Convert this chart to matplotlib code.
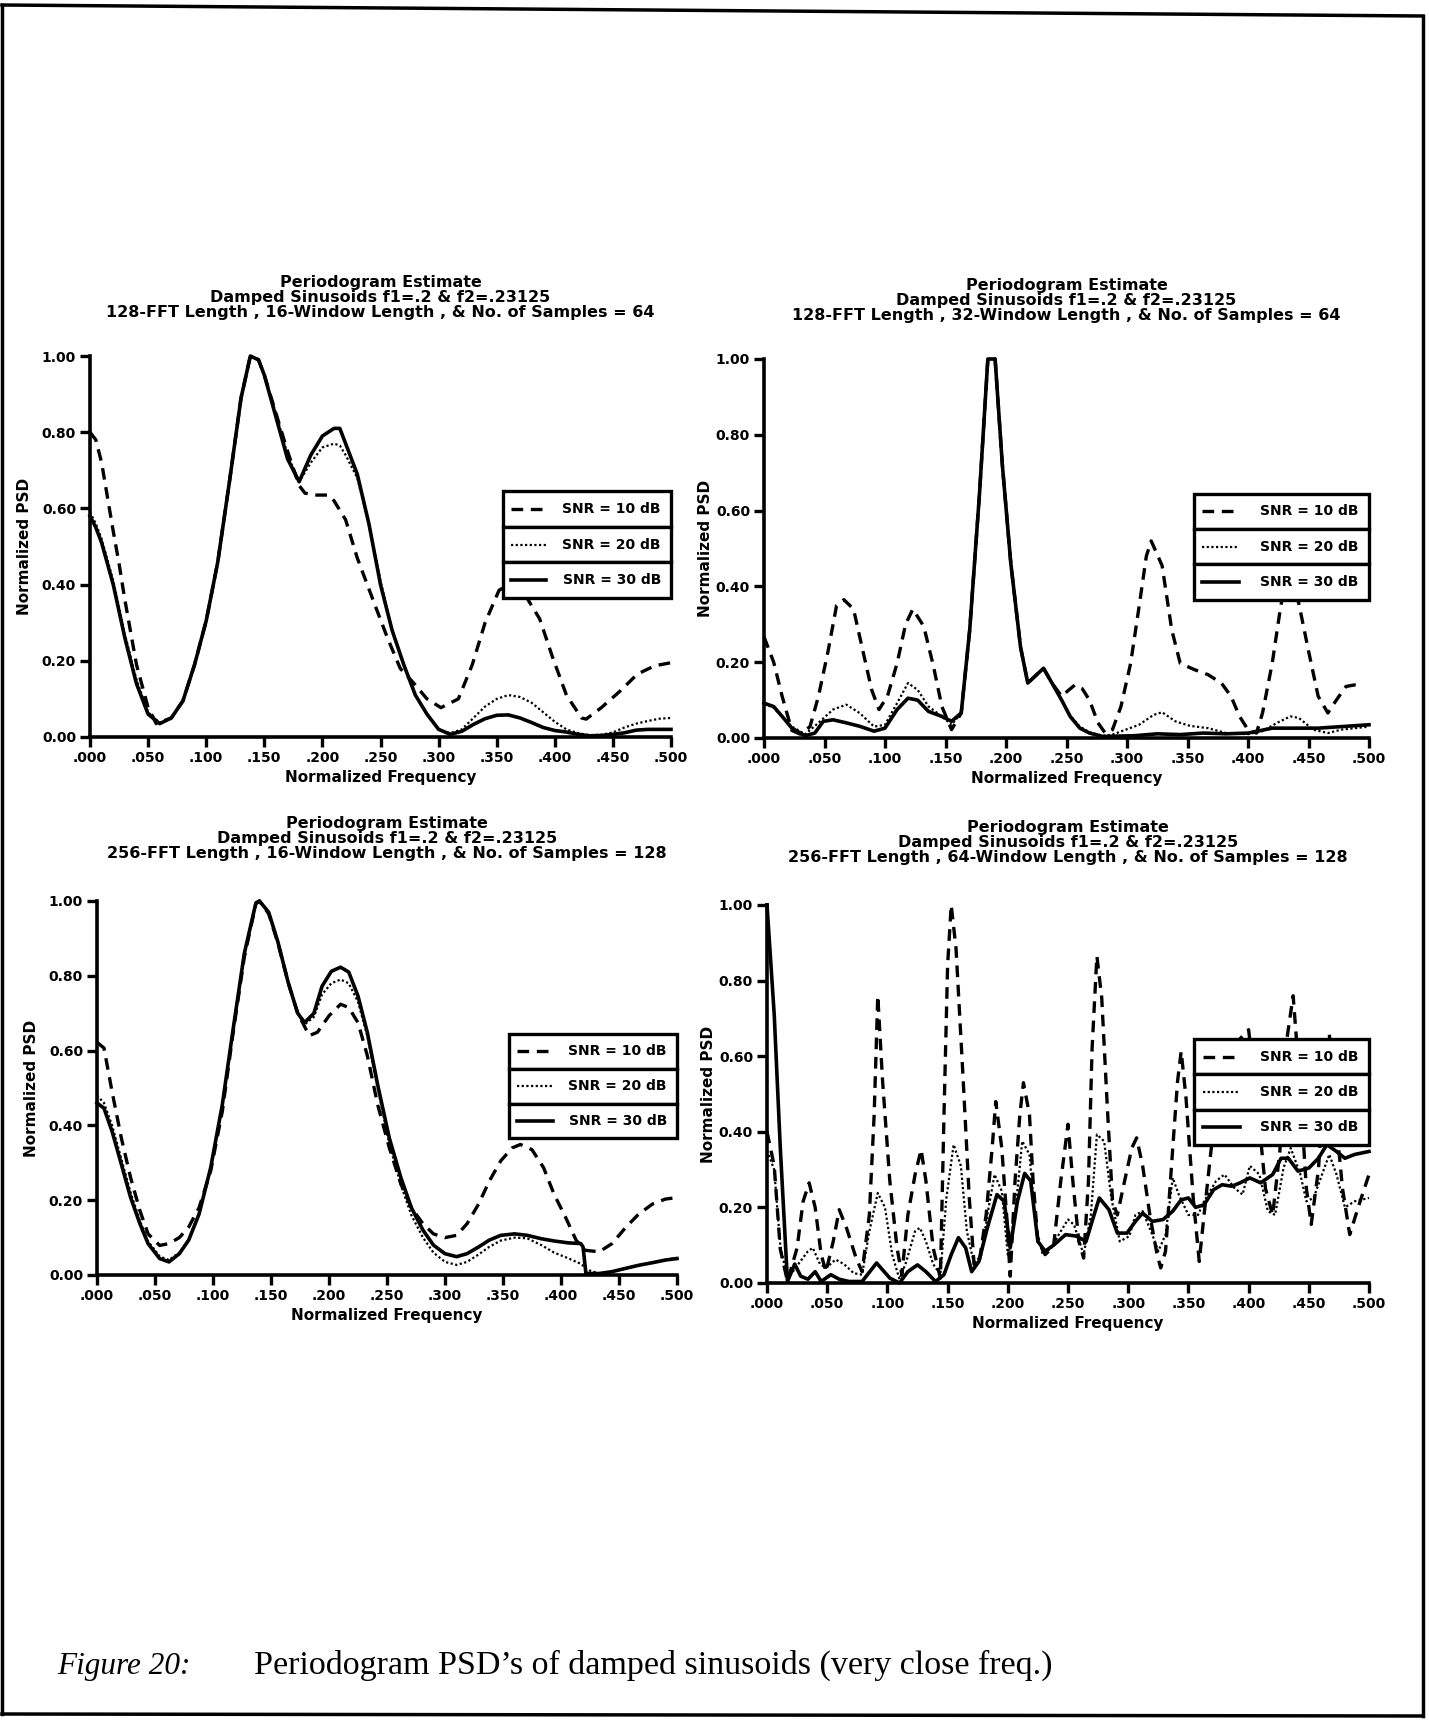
import matplotlib
matplotlib.use("Agg")
import matplotlib.pyplot as plt
from matplotlib.patches import Rectangle
from matplotlib.lines import Line2D

plt.rcParams['font.family'] = ['DejaVu Sans']

# ---- text ----
title_top = "Periodogram Estimate\nDamped Sinusoids f1=.2 & f2=.23125\n"
titles = [title_top + "128-FFT Length , 16-Window Length , & No. of Samples = 64",
          title_top + "128-FFT Length , 32-Window Length , & No. of Samples = 64",
          title_top + "256-FFT Length , 16-Window Length , & No. of Samples = 128",
          title_top + "256-FFT Length , 64-Window Length , & No. of Samples = 128"]
legend_labels = ["SNR = 10 dB", "SNR = 20 dB", "SNR = 30 dB"]
xticks = [0.0, 0.05, 0.1, 0.15, 0.2, 0.25, 0.3, 0.35, 0.4, 0.45, 0.5]
xticklabels = [".000", ".050", ".100", ".150", ".200", ".250", ".300", ".350", ".400", ".450", ".500"]
yticks = [0.0, 0.2, 0.4, 0.6, 0.8, 1.0]
yticklabels = ["0.00", "0.20", "0.40", "0.60", "0.80", "1.00"]

# ---- top left: 128 FFT, 16 window ----
tl_x10 = [0, 0.005, 0.01, 0.02, 0.025, 0.03, 0.04, 0.05, 0.057, 0.07, 0.08, 0.09, 0.1, 0.11, 0.12, 0.13,
          0.138, 0.145, 0.15, 0.16, 0.17, 0.18, 0.185, 0.195, 0.205, 0.21, 0.22, 0.23, 0.246, 0.256, 0.267,
          0.279, 0.29, 0.302, 0.317, 0.329, 0.34, 0.352, 0.36, 0.375, 0.387, 0.398, 0.41, 0.423, 0.427, 0.44,
          0.456, 0.471, 0.486, 0.5]
tl_y10 = [0.80, 0.78, 0.72, 0.54, 0.455, 0.36, 0.19, 0.077, 0.035, 0.05, 0.095, 0.19, 0.305, 0.46, 0.67, 0.89,
          1.0, 0.99, 0.95, 0.85, 0.75, 0.66, 0.64, 0.635, 0.635, 0.62, 0.57, 0.47, 0.34, 0.26, 0.18,
          0.14, 0.10, 0.077, 0.10, 0.19, 0.30, 0.385, 0.40, 0.37, 0.31, 0.21, 0.11, 0.05, 0.047, 0.077,
          0.12, 0.165, 0.187, 0.195]
tl_x = [0, 0.005, 0.01, 0.02, 0.03, 0.04, 0.05, 0.06, 0.07, 0.08, 0.09, 0.1, 0.11, 0.12, 0.13, 0.138, 0.145,
        0.15, 0.16, 0.17, 0.18, 0.19, 0.2, 0.21, 0.215, 0.22, 0.23, 0.24, 0.25, 0.26, 0.27, 0.28, 0.29, 0.3,
        0.31, 0.32, 0.33, 0.34, 0.35, 0.36, 0.37, 0.38, 0.39, 0.4, 0.41, 0.42, 0.43, 0.44, 0.45, 0.46, 0.47,
        0.48, 0.49, 0.5]
tl_y20 = [0.59, 0.56, 0.52, 0.41, 0.27, 0.15, 0.065, 0.037, 0.05, 0.095, 0.19, 0.305, 0.46, 0.67, 0.89, 1.0, 0.99,
          0.95, 0.85, 0.74, 0.67, 0.72, 0.76, 0.77, 0.765, 0.74, 0.68, 0.56, 0.41, 0.28, 0.19, 0.11, 0.06, 0.02,
          0.01, 0.02, 0.05, 0.08, 0.10, 0.11, 0.105, 0.09, 0.065, 0.04, 0.02, 0.01, 0.005, 0.006, 0.012, 0.025,
          0.035, 0.042, 0.048, 0.05]
tl_y30 = [0.58, 0.55, 0.51, 0.40, 0.26, 0.14, 0.06, 0.035, 0.05, 0.095, 0.19, 0.305, 0.46, 0.67, 0.89, 1.0, 0.99,
          0.95, 0.84, 0.73, 0.67, 0.74, 0.79, 0.81, 0.81, 0.77, 0.69, 0.56, 0.40, 0.28, 0.19, 0.11, 0.06, 0.02,
          0.007, 0.015, 0.033, 0.048, 0.057, 0.058, 0.05, 0.038, 0.025, 0.017, 0.013, 0.007, 0.003, 0.004, 0.007,
          0.011, 0.018, 0.02, 0.02, 0.02]

# ---- top right: 128 FFT, 32 window ----
tr_x10 = [0, 0.008, 0.015, 0.023, 0.03, 0.038, 0.045, 0.053, 0.06, 0.066, 0.074, 0.081, 0.089, 0.095, 0.102,
          0.11, 0.117, 0.123, 0.132, 0.14, 0.147, 0.155, 0.163, 0.17, 0.178, 0.185, 0.191, 0.197, 0.204, 0.212,
          0.218, 0.223, 0.231, 0.238, 0.246, 0.252, 0.257, 0.263, 0.269, 0.276, 0.282, 0.288, 0.295, 0.303,
          0.31, 0.316, 0.32, 0.329, 0.337, 0.344, 0.356, 0.367, 0.378, 0.386, 0.393, 0.4, 0.407, 0.412, 0.42,
          0.427, 0.433, 0.442, 0.45, 0.458, 0.466, 0.473, 0.481, 0.488, 0.494]
tr_y10 = [0.267, 0.2, 0.11, 0.02, 0.01, 0.03, 0.11, 0.23, 0.35, 0.365, 0.34, 0.24, 0.127, 0.075, 0.11,
          0.197, 0.30, 0.34, 0.295, 0.19, 0.083, 0.022, 0.066, 0.285, 0.64, 1.0, 1.0, 0.72, 0.46, 0.24,
          0.145, 0.16, 0.184, 0.145, 0.11, 0.127, 0.14, 0.13, 0.10, 0.04, 0.013, 0.022, 0.083, 0.197,
          0.347, 0.48, 0.52, 0.455, 0.285, 0.197, 0.18, 0.167, 0.145, 0.11, 0.057, 0.022, 0.013, 0.066, 0.197,
          0.347, 0.44, 0.355, 0.23, 0.11, 0.066, 0.10, 0.136, 0.14, 0.135]
tr_x20 = [0, 0.008, 0.015, 0.023, 0.034, 0.045, 0.057, 0.068, 0.079, 0.091, 0.1, 0.11, 0.119, 0.127, 0.136,
          0.147, 0.155, 0.163, 0.17, 0.178, 0.185, 0.191, 0.197, 0.204, 0.212, 0.218, 0.223, 0.231, 0.238,
          0.246, 0.253, 0.261, 0.269, 0.28, 0.288, 0.299, 0.31, 0.322, 0.329, 0.34, 0.352, 0.367, 0.382, 0.4,
          0.412, 0.424, 0.435, 0.442, 0.454, 0.466, 0.477, 0.5]
tr_y20 = [0.09, 0.08, 0.055, 0.03, 0.01, 0.04, 0.075, 0.088, 0.066, 0.03, 0.035, 0.092, 0.145, 0.127, 0.083,
          0.057, 0.035, 0.066, 0.285, 0.64, 1.0, 1.0, 0.72, 0.46, 0.24, 0.145, 0.16, 0.184, 0.145,
          0.10, 0.06, 0.03, 0.015, 0.006, 0.009, 0.022, 0.035, 0.061, 0.068, 0.044, 0.032, 0.026, 0.013, 0.01,
          0.018, 0.04, 0.057, 0.053, 0.022, 0.013, 0.022, 0.03]
tr_x30 = [0, 0.008, 0.015, 0.023, 0.034, 0.042, 0.049, 0.057, 0.068, 0.079, 0.091, 0.1, 0.11, 0.119, 0.127,
          0.136, 0.147, 0.155, 0.163, 0.17, 0.178, 0.185, 0.191, 0.197, 0.204, 0.212, 0.218, 0.223, 0.231,
          0.238, 0.246, 0.253, 0.261, 0.269, 0.28, 0.306, 0.325, 0.344, 0.363, 0.382, 0.4, 0.42, 0.44, 0.458,
          0.477, 0.5]
tr_y30 = [0.092, 0.083, 0.057, 0.026, 0.006, 0.013, 0.044, 0.048, 0.04, 0.031, 0.018, 0.026, 0.075, 0.105, 0.10,
          0.07, 0.057, 0.044, 0.066, 0.285, 0.64, 1.0, 1.0, 0.72, 0.46, 0.24, 0.145, 0.16, 0.184,
          0.145, 0.10, 0.057, 0.026, 0.013, 0.004, 0.006, 0.011, 0.009, 0.013, 0.011, 0.013, 0.026, 0.026, 0.026,
          0.03, 0.035]

# ---- bottom left: 256 FFT, 16 window ----
bl_x10 = [0, 0.006, 0.013, 0.021, 0.029, 0.037, 0.044, 0.054, 0.062, 0.071, 0.079, 0.088, 0.098, 0.108, 0.117,
          0.127, 0.137, 0.14, 0.148, 0.156, 0.165, 0.173, 0.183, 0.19, 0.2, 0.21, 0.217, 0.225, 0.233, 0.242,
          0.252, 0.262, 0.271, 0.281, 0.29, 0.3, 0.31, 0.319, 0.329, 0.338, 0.348, 0.358, 0.365, 0.375, 0.385,
          0.394, 0.404, 0.413, 0.421, 0.433, 0.444, 0.456, 0.467, 0.479, 0.49, 0.5]
bl_y10 = [0.622, 0.607, 0.49, 0.366, 0.26, 0.172, 0.11, 0.079, 0.084, 0.10, 0.128, 0.18, 0.278, 0.437, 0.64,
          0.85, 0.993, 1.0, 0.966, 0.887, 0.78, 0.70, 0.64, 0.649, 0.693, 0.724, 0.715, 0.675, 0.587, 0.455,
          0.34, 0.243, 0.18, 0.137, 0.11, 0.10, 0.106, 0.137, 0.19, 0.25, 0.305, 0.34, 0.349, 0.335, 0.287,
          0.216, 0.154, 0.093, 0.066, 0.062, 0.084, 0.128, 0.163, 0.19, 0.203, 0.207]
bl_x = [0, 0.006, 0.013, 0.021, 0.029, 0.037, 0.044, 0.054, 0.062, 0.071, 0.079, 0.088, 0.098, 0.108, 0.117,
        0.127, 0.137, 0.14, 0.148, 0.156, 0.165, 0.173, 0.179, 0.187, 0.194, 0.202, 0.21, 0.217, 0.225, 0.233,
        0.242, 0.252, 0.262, 0.271, 0.281, 0.29, 0.3, 0.31, 0.319, 0.329, 0.338, 0.348, 0.36, 0.371, 0.383,
        0.394, 0.406, 0.417, 0.419, 0.4215, 0.433, 0.444, 0.456, 0.467, 0.479, 0.49, 0.5]
bl_y20 = [0.48, 0.46, 0.40, 0.31, 0.22, 0.145, 0.09, 0.05, 0.04, 0.06, 0.095, 0.165, 0.285, 0.455, 0.65,
          0.86, 0.995, 1.0, 0.97, 0.89, 0.78, 0.70, 0.67, 0.69, 0.75, 0.78, 0.79, 0.78, 0.73, 0.64,
          0.50, 0.35, 0.24, 0.16, 0.10, 0.06, 0.035, 0.027, 0.035, 0.055, 0.075, 0.092, 0.10, 0.098, 0.08,
          0.06, 0.045, 0.03, 0.025, 0.015, 0.004, 0.009, 0.018, 0.026, 0.034, 0.041, 0.046]
bl_y30 = [0.46, 0.446, 0.384, 0.296, 0.207, 0.137, 0.084, 0.044, 0.035, 0.057, 0.093, 0.163, 0.287, 0.455, 0.65,
          0.86, 0.995, 1.0, 0.97, 0.89, 0.78, 0.70, 0.675, 0.70, 0.772, 0.812, 0.823, 0.81, 0.746, 0.649,
          0.508, 0.366, 0.26, 0.18, 0.12, 0.08, 0.057, 0.049, 0.057, 0.075, 0.093, 0.106, 0.11, 0.106, 0.097,
          0.091, 0.086, 0.084, 0.075, 0.004, 0.004, 0.009, 0.018, 0.026, 0.033, 0.04, 0.044]

# ---- bottom right: 256 FFT, 64 window ----
br_x10 = [0, 0.006, 0.011, 0.017, 0.025, 0.03, 0.035, 0.04, 0.045, 0.049, 0.055, 0.06, 0.066, 0.074, 0.079,
          0.085, 0.089, 0.092, 0.096, 0.102, 0.108, 0.112, 0.117, 0.123, 0.128, 0.132, 0.138, 0.144, 0.147,
          0.15, 0.153, 0.157, 0.163, 0.168, 0.172, 0.176, 0.182, 0.187, 0.19, 0.195, 0.199, 0.202, 0.206,
          0.21, 0.213, 0.218, 0.221, 0.225, 0.231, 0.238, 0.244, 0.25, 0.254, 0.259, 0.263, 0.267, 0.27,
          0.274, 0.278, 0.283, 0.287, 0.291, 0.297, 0.303, 0.307, 0.312, 0.318, 0.324, 0.327, 0.331, 0.337,
          0.341, 0.344, 0.348, 0.354, 0.359, 0.363, 0.369, 0.374, 0.385, 0.4, 0.408, 0.414, 0.42, 0.426,
          0.432, 0.437, 0.442, 0.448, 0.452, 0.458, 0.463, 0.467, 0.472, 0.478, 0.484, 0.491, 0.5]
br_y10 = [0.40, 0.31, 0.09, 0.004, 0.093, 0.216, 0.265, 0.20, 0.075, 0.03, 0.11, 0.194, 0.146, 0.066, 0.03,
          0.18, 0.445, 0.76, 0.534, 0.27, 0.093, 0.022, 0.18, 0.287, 0.353, 0.27, 0.093, 0.013, 0.445,
          0.84, 1.0, 0.885, 0.534, 0.225, 0.049, 0.049, 0.18, 0.357, 0.48, 0.357, 0.18, 0.018, 0.27,
          0.445, 0.53, 0.445, 0.27, 0.11, 0.075, 0.097, 0.27, 0.42, 0.27, 0.11, 0.066, 0.27, 0.62,
          0.865, 0.755, 0.445, 0.216, 0.18, 0.27, 0.357, 0.384, 0.31, 0.18, 0.075, 0.04, 0.084, 0.357,
          0.534, 0.613, 0.49, 0.225, 0.057, 0.18, 0.357, 0.50, 0.62, 0.67, 0.45, 0.25, 0.18, 0.35,
          0.65, 0.76, 0.55, 0.25, 0.155, 0.30, 0.55, 0.66, 0.45, 0.25, 0.128, 0.20, 0.287]
br_x20 = [0, 0.006, 0.011, 0.017, 0.026, 0.034, 0.038, 0.044, 0.049, 0.057, 0.064, 0.072, 0.079, 0.085, 0.092,
          0.098, 0.104, 0.11, 0.115, 0.123, 0.127, 0.132, 0.138, 0.144, 0.149, 0.155, 0.161, 0.166, 0.172,
          0.178, 0.183, 0.189, 0.195, 0.2, 0.206, 0.212, 0.218, 0.223, 0.229, 0.236, 0.244, 0.25, 0.255,
          0.263, 0.269, 0.274, 0.28, 0.286, 0.293, 0.301, 0.306, 0.312, 0.32, 0.325, 0.331, 0.337, 0.342,
          0.35, 0.358, 0.363, 0.373, 0.38, 0.388, 0.395, 0.401, 0.409, 0.416, 0.422, 0.429, 0.435, 0.443,
          0.448, 0.454, 0.461, 0.467, 0.473, 0.48, 0.488, 0.5]
br_y20 = [0.35, 0.30, 0.10, 0.01, 0.05, 0.084, 0.093, 0.05, 0.04, 0.062, 0.05, 0.026, 0.022, 0.137, 0.238,
          0.20, 0.075, 0.01, 0.05, 0.137, 0.146, 0.11, 0.05, 0.022, 0.225, 0.366, 0.31, 0.137, 0.05,
          0.075, 0.18, 0.287, 0.243, 0.075, 0.18, 0.375, 0.34, 0.154, 0.075, 0.093, 0.137, 0.168, 0.154,
          0.075, 0.18, 0.393, 0.375, 0.225, 0.11, 0.124, 0.18, 0.19, 0.128, 0.084, 0.128, 0.278, 0.234,
          0.18, 0.18, 0.216, 0.27, 0.287, 0.252, 0.234, 0.31, 0.287, 0.19, 0.18, 0.304, 0.357, 0.287,
          0.216, 0.225, 0.287, 0.34, 0.287, 0.20, 0.216, 0.225]
br_x30 = [0, 0.006, 0.011, 0.017, 0.023, 0.028, 0.034, 0.04, 0.045, 0.053, 0.06, 0.068, 0.079, 0.091, 0.102,
          0.11, 0.117, 0.125, 0.132, 0.14, 0.147, 0.153, 0.159, 0.165, 0.17, 0.176, 0.183, 0.191, 0.197,
          0.202, 0.208, 0.214, 0.219, 0.225, 0.231, 0.238, 0.248, 0.257, 0.265, 0.27, 0.276, 0.284, 0.291,
          0.299, 0.306, 0.312, 0.32, 0.329, 0.337, 0.344, 0.35, 0.356, 0.363, 0.371, 0.378, 0.386, 0.393,
          0.401, 0.41, 0.42, 0.427, 0.433, 0.441, 0.45, 0.458, 0.465, 0.473, 0.48, 0.488, 0.5]
br_y30 = [1.0, 0.71, 0.36, 0.004, 0.05, 0.018, 0.01, 0.03, 0.004, 0.022, 0.01, 0.004, 0.004, 0.053, 0.013,
          0.0, 0.03, 0.048, 0.03, 0.004, 0.022, 0.075, 0.12, 0.093, 0.03, 0.057, 0.146, 0.234, 0.216,
          0.093, 0.216, 0.29, 0.27, 0.11, 0.084, 0.10, 0.128, 0.124, 0.11, 0.163, 0.225, 0.194, 0.132,
          0.132, 0.163, 0.185, 0.163, 0.168, 0.19, 0.22, 0.225, 0.20, 0.207, 0.247, 0.26, 0.256, 0.265,
          0.278, 0.265, 0.287, 0.33, 0.33, 0.296, 0.304, 0.33, 0.366, 0.348, 0.33, 0.34, 0.348]

panels = [
    (titles[0], [(tl_x10, tl_y10), (tl_x, tl_y20), (tl_x, tl_y30)]),
    (titles[1], [(tr_x10, tr_y10), (tr_x20, tr_y20), (tr_x30, tr_y30)]),
    (titles[2], [(bl_x10, bl_y10), (bl_x, bl_y20), (bl_x, bl_y30)]),
    (titles[3], [(br_x10, br_y10), (br_x20, br_y20), (br_x30, br_y30)]),
]

# layout in pixels: left, top, right, bottom
W, H = 1429, 1720
boxes = [(90, 356, 671, 737), (764, 359, 1369, 738), (97, 901, 677, 1275), (767, 905, 1369, 1283)]
ylab_x = [-0.1, -0.085, -0.1, -0.085]
title_pad = [28, 28, 31, 31]

styles = [dict(color='black', lw=2.4, ls=(0, (3.5, 2.3))),
          dict(color='black', lw=1.6, ls=(0, (1, 1.1))),
          dict(color='black', lw=2.6, ls='-')]

fig = plt.figure(figsize=(W / 100, H / 100), dpi=100)

for k, (title, series) in enumerate(panels):
    l, t, r, b = boxes[k]
    ax = fig.add_axes([l / W, 1 - b / H, (r - l) / W, (b - t) / H])
    for (x, y), st in zip(series, styles):
        ax.plot(x, y, clip_on=False, solid_joinstyle='round', **st)
    ax.set_xlim(0, 0.5)
    ax.set_ylim(0, 1.0)
    ax.set_xticks(xticks)
    ax.set_xticklabels(xticklabels)
    ax.set_yticks(yticks)
    ax.set_yticklabels(yticklabels)
    for s in ['top', 'right']:
        ax.spines[s].set_visible(False)
    for s in ['left', 'bottom']:
        ax.spines[s].set_linewidth(2.6)
    ax.tick_params(direction='out', length=7, width=2.4, pad=3, labelsize=10)
    for lab in ax.get_xticklabels() + ax.get_yticklabels():
        lab.set_fontweight('bold')
    ax.set_title(title, fontsize=11.5, fontweight='bold', pad=title_pad[k], linespacing=1.0)
    ax.set_xlabel("Normalized Frequency", fontsize=11, fontweight='bold', labelpad=4)
    ax.set_ylabel("Normalized PSD", fontsize=11, fontweight='bold')
    ax.yaxis.set_label_coords(ylab_x[k], 0.5)

    # boxed legend, one cell per row
    lg = ax.inset_axes([0.71, 0.365, 0.29, 0.28])
    lg.set_xlim(0, 1)
    lg.set_ylim(0, 3)
    lg.axis('off')
    lg.set_zorder(5)
    for i, (lab, st) in enumerate(zip(legend_labels, styles)):
        row = 2 - i
        lg.add_patch(Rectangle((0, row), 1, 1, facecolor='white', edgecolor='black', lw=2.4, clip_on=False))
        lg.plot([0.05, 0.26], [row + 0.5, row + 0.5], **st)
        lg.text(0.94, row + 0.5, lab, ha='right', va='center', fontsize=10, fontweight='bold')

# page frame
frame = [((2, 5), (1423, 16)), ((1423, 16), (1423, 1716)), ((2, 1714), (1423, 1716)), ((2, 5), (2, 1714))]
for (x0, y0), (x1, y1) in frame:
    fig.add_artist(Line2D([x0 / W, x1 / W], [1 - y0 / H, 1 - y1 / H], color='black', lw=2.5))

# caption
fig.text(57 / W, 1 - 1674 / H, "Figure 20:", family='Liberation Serif', style='italic', fontsize=22.5,
         va='baseline')
fig.text(254 / W, 1 - 1674 / H, "Periodogram PSD\u2019s of damped sinusoids (very close freq.)",
         family='Liberation Serif', fontsize=24.5, va='baseline')

fig.savefig("out.png", dpi=100)
